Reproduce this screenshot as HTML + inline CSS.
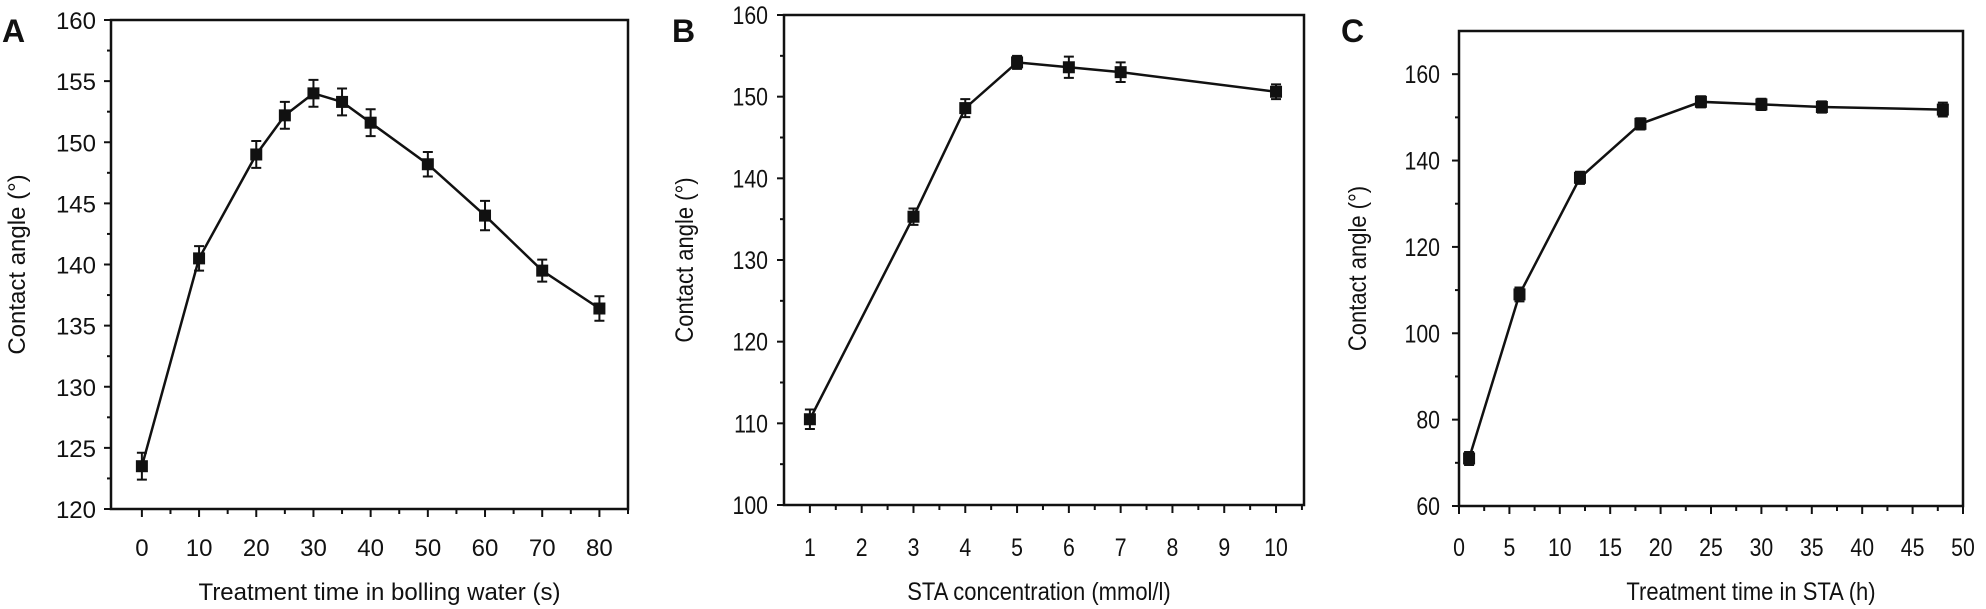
<!DOCTYPE html>
<html><head><meta charset="utf-8"><style>
html,body{margin:0;padding:0;background:#fff;}
svg{display:block;}
text{font-family:"Liberation Sans",Arial,sans-serif;fill:#111;}
</style></head><body>
<svg id="fig" width="1986" height="609" xmlns="http://www.w3.org/2000/svg"></svg>
<script>
// Panel A data
const aX = [0,10,20,25,30,35,40,50,60,70,80];
const aY = [123.5,140.5,149,152.2,154,153.3,151.6,148.2,144,139.5,136.4];
const aErr = [1.1,1.0,1.1,1.1,1.1,1.1,1.1,1.0,1.2,0.9,1.0];
const aXTicks = [0,10,20,30,40,50,60,70,80];
const aYTicks = [120,125,130,135,140,145,150,155,160];
// Panel B data
const bX = [1,3,4,5,6,7,10];
const bY = [110.5,135.3,148.6,154.2,153.6,153,150.6];
const bErr = [1.2,1.0,1.1,0.8,1.3,1.2,0.9];
const bXTicks = [1,2,3,4,5,6,7,8,9,10];
const bYTicks = [100,110,120,130,140,150,160];
// Panel C data
const cX = [1,6,12,18,24,30,36,48];
const cY = [71,109,136,148.5,153.6,153,152.4,151.8];
const cErr = [1.5,1.6,1.4,1.3,1.3,1.3,1.3,1.6];
const cXTicks = [0,5,10,15,20,25,30,35,40,45,50];
const cYTicks = [60,80,100,120,140,160];

const NS = "http://www.w3.org/2000/svg";
const svg = document.getElementById('fig');
function mk(tag, attrs, parent){
  const e = document.createElementNS(NS, tag);
  for (const k in attrs) e.setAttribute(k, attrs[k]);
  (parent||svg).appendChild(e);
  return e;
}
function panel(cfg){
  const g = mk('g', {});
  
  
  const sx = v => cfg.L + (v - cfg.x0) / (cfg.x1 - cfg.x0) * (cfg.R - cfg.L);
  const sy = v => cfg.B - (v - cfg.y0) / (cfg.y1 - cfg.y0) * (cfg.B - cfg.T);
  const fr = mk('rect', {x:cfg.L, y:cfg.T, width:cfg.R-cfg.L, height:cfg.B-cfg.T, fill:'none', stroke:'#111', 'stroke-width':2.5}, g);
  
  
  // x ticks
  cfg.xt.forEach(t => {
    const x = sx(t);
    const tk = mk('line', {x1:x, x2:x, y1:cfg.B, y2:cfg.B+8, stroke:'#111', 'stroke-width':2}, g);
    
    
    const lb = mk('text', {x:x, y:547+9, 'text-anchor':'middle', 'font-size':cfg.fs, transform:cfg.sq?`translate(${x},0) scale(0.85,1) translate(${-x},0)`:''}, g);
    lb.textContent = t;
    
    
  });
  for (let v = cfg.xm0; v <= cfg.x1 + 1e-9; v += cfg.xmStep){
    if (v < cfg.x0) continue;
    const x = sx(v);
    const mt = mk('line', {x1:x, x2:x, y1:cfg.B, y2:cfg.B+5, stroke:'#111', 'stroke-width':2}, g);
    
    
  }
  cfg.yt.forEach(t => {
    const y = sy(t);
    const tk = mk('line', {x1:cfg.L-7, x2:cfg.L, y1:y, y2:y, stroke:'#111', 'stroke-width':2}, g);
    
    
    const lb = mk('text', {x:cfg.lx, y:y+9, 'text-anchor':'end', 'font-size':cfg.fs, transform:cfg.sq?`translate(${cfg.lx},0) scale(0.85,1) translate(${-cfg.lx},0)`:''}, g);
    lb.textContent = t;
    
    
  });
  for (let v = cfg.y0 + cfg.ymStep/2; v < cfg.y1; v += cfg.ymStep){
    const y = sy(v);
    const mt = mk('line', {x1:cfg.L-4, x2:cfg.L, y1:y, y2:y, stroke:'#111', 'stroke-width':2}, g);
    
    
  }
  // line
  const pts = cfg.xs.map((v,i) => sx(v) + ',' + sy(cfg.ys[i])).join(' ');
  const pl = mk('polyline', {points:pts, fill:'none', stroke:'#111', 'stroke-width':2.5}, g);
  
  
  cfg.xs.forEach((v,i) => {
    const x = sx(v), y = sy(cfg.ys[i]);
    const y1 = sy(cfg.ys[i] + cfg.err[i]), y2 = sy(cfg.ys[i] - cfg.err[i]);
    const eb = mk('path', {d:`M${x},${y1}V${y2}M${x-5},${y1}H${x+5}M${x-5},${y2}H${x+5}`, stroke:'#111', 'stroke-width':2, fill:'none'}, g);
    
    
    const m = mk('rect', {x:x-6, y:y-6, width:12, height:12, fill:'#111'}, g);
    
    
  });
  // titles
  const xt = mk('text', {x:(cfg.L+cfg.R)/2 + cfg.xtOff, y:600, 'text-anchor':'middle', 'font-size':cfg.fs, transform:cfg.sq?`translate(${(cfg.L+cfg.R)/2 + cfg.xtOff},0) scale(0.88,1) translate(${-((cfg.L+cfg.R)/2 + cfg.xtOff)},0)`:''}, g);
  xt.textContent = cfg.xlabel;
  
  
  const cy = (cfg.T+cfg.B)/2;
  const yt = mk('text', {x:0, y:0, 'text-anchor':'middle', 'font-size':cfg.fs, transform:`translate(${cfg.ytx},${cy}) rotate(-90)` + (cfg.sq?' scale(0.88,1)':'')}, g);
  yt.textContent = 'Contact angle (°)';
  
  
  const pt = mk('text', {x:cfg.px, y:42, 'font-size':32, 'font-weight':'bold'}, g);
  pt.textContent = cfg.id;
  
  
}
panel({id:'A', L:111, R:628, T:20, B:509, x0:-5.4, x1:85, y0:120, y1:160,
  xs:aX, ys:aY, err:aErr, xt:aXTicks, yt:aYTicks, xm0:5, xmStep:10, ymStep:5,
  lx:96, fs:24, sq:false, xlabel:'Treatment time in bolling water (s)', xtOff:10, ytx:25, px:2});
panel({id:'B', L:784, R:1304, T:15, B:505, x0:0.5, x1:10.54, y0:100, y1:160,
  xs:bX, ys:bY, err:bErr, xt:bXTicks, yt:bYTicks, xm0:1.5, xmStep:1, ymStep:10,
  lx:768, fs:25, sq:true, xlabel:'STA concentration (mmol/l)', xtOff:-5, ytx:693, px:672});
panel({id:'C', L:1459, R:1963, T:31, B:506, x0:0, x1:50, y0:60, y1:170,
  xs:cX, ys:cY, err:cErr, xt:cXTicks, yt:cYTicks, xm0:2.5, xmStep:5, ymStep:20,
  lx:1440, fs:25, sq:true, xlabel:'Treatment time in STA (h)', xtOff:40, ytx:1366, px:1341});
</script>
</body></html>
